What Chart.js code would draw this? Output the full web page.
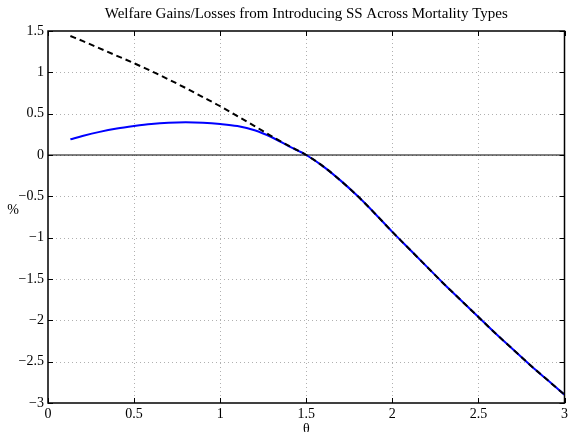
<!DOCTYPE html>
<html>
<head>
<meta charset="utf-8">
<script src="https://cdn.jsdelivr.net/npm/chart.js@4.4.0/dist/chart.umd.min.js"></script>
<style>
  html, body { margin: 0; padding: 0; background: #fff; }
  canvas { display: block; }
</style>
</head>
<body>
<canvas id="welfare" width="571" height="432"></canvas>
<script>
// mortality type theta and welfare change (%) for the two cases
const theta = [0.13, 0.2, 0.3, 0.4, 0.5, 0.6, 0.7, 0.8, 0.9, 1.0,
               1.1, 1.2, 1.3, 1.4, 1.5, 1.6, 1.7, 1.8, 1.9, 2.0,
               2.1, 2.2, 2.3, 2.4, 2.5, 2.6, 2.7, 2.8, 2.9, 3.0];
const gainSolid = [0.19, 0.23, 0.28, 0.32, 0.35, 0.375, 0.39, 0.395, 0.39, 0.375,
                   0.35, 0.30, 0.215, 0.105, 0.0, -0.14, -0.31, -0.50, -0.71, -0.93,
                   -1.14, -1.35, -1.56, -1.76, -1.96, -2.16, -2.35, -2.54, -2.72, -2.90];
const gainDashed = [1.44, 1.38, 1.29, 1.20, 1.11, 1.015, 0.915, 0.81, 0.70, 0.59,
                    0.47, 0.35, 0.225, 0.11, 0.0, -0.14, -0.31, -0.50, -0.71, -0.93,
                    -1.14, -1.35, -1.56, -1.76, -1.96, -2.16, -2.35, -2.54, -2.72, -2.90];
const zeroLine = [[0, 0], [3, 0]];

const xTicks = [0, 0.5, 1, 1.5, 2, 2.5, 3];
const yTicks = [-3, -2.5, -2, -1.5, -1, -0.5, 0, 0.5, 1, 1.5];

const TITLE = 'Welfare Gains/Losses from Introducing SS Across Mortality Types';
const FONT = 'Liberation Serif';

const pts = (xs, ys) => xs.map((x, i) => ({ x: x, y: ys[i] }));

// matlab-style frame: dotted grid, box, inward ticks, title and axis labels
const frame = {
  id: 'frame',
  beforeDatasetsDraw(chart) {
    const { ctx, chartArea: a, scales: { x, y } } = chart;
    ctx.save();
    ctx.strokeStyle = '#b0b0b0';
    ctx.lineWidth = 1;
    ctx.setLineDash([1, 3]);
    xTicks.slice(1, -1).forEach(v => {
      const px = Math.round(x.getPixelForValue(v)) + 0.5;
      ctx.beginPath(); ctx.moveTo(px, a.top); ctx.lineTo(px, a.bottom); ctx.stroke();
    });
    yTicks.slice(1, -1).forEach(v => {
      const py = Math.round(y.getPixelForValue(v)) + 0.5;
      ctx.beginPath(); ctx.moveTo(a.left, py); ctx.lineTo(a.right, py); ctx.stroke();
    });
    ctx.restore();
  },
  afterDatasetsDraw(chart) {
    const { ctx, chartArea: a, scales: { x, y } } = chart;
    const len = 5;
    ctx.save();
    ctx.strokeStyle = '#000';
    ctx.lineWidth = 1;
    ctx.setLineDash([]);
    xTicks.forEach(v => {
      const px = Math.round(x.getPixelForValue(v)) + 0.5;
      ctx.beginPath();
      ctx.moveTo(px, a.bottom); ctx.lineTo(px, a.bottom - len);
      ctx.moveTo(px, a.top); ctx.lineTo(px, a.top + len);
      ctx.stroke();
    });
    yTicks.forEach(v => {
      const py = Math.round(y.getPixelForValue(v)) + 0.5;
      ctx.beginPath();
      ctx.moveTo(a.left, py); ctx.lineTo(a.left + len, py);
      ctx.moveTo(a.right, py); ctx.lineTo(a.right - len, py);
      ctx.stroke();
    });
    ctx.lineWidth = 1.5;
    ctx.strokeRect(a.left, a.top, a.right - a.left, a.bottom - a.top);

    const cx = (a.left + a.right) / 2;
    ctx.fillStyle = '#000';
    ctx.textAlign = 'center';
    ctx.textBaseline = 'alphabetic';
    ctx.font = '15px "' + FONT + '"';
    ctx.fillText(TITLE, cx, 18);
    ctx.textBaseline = 'middle';
    ctx.font = '14px "' + FONT + '"';
    ctx.fillText('%', 13, 210);
    ctx.fillText('θ', cx, a.bottom + 26);
    ctx.restore();
  }
};

new Chart(document.getElementById('welfare').getContext('2d'), {
  type: 'scatter',
  data: {
    datasets: [
      {
        label: 'dashed',
        data: pts(theta, gainDashed),
        showLine: true,
        borderColor: '#000',
        borderWidth: 2,
        borderDash: [6, 4],
        pointRadius: 0,
        cubicInterpolationMode: 'monotone'
      },
      {
        label: 'solid',
        data: pts(theta, gainSolid),
        showLine: true,
        borderColor: '#0000ff',
        borderWidth: 2,
        pointRadius: 0,
        cubicInterpolationMode: 'monotone'
      },
      {
        label: 'zero',
        data: zeroLine.map(p => ({ x: p[0], y: p[1] })),
        showLine: true,
        borderColor: '#000',
        borderWidth: 1,
        pointRadius: 0
      }
    ]
  },
  options: {
    responsive: false,
    animation: false,
    layout: { padding: { left: 0, right: 4, top: 31, bottom: 0 } },
    plugins: {
      legend: { display: false },
      tooltip: { enabled: false },
      title: { display: false }
    },
    scales: {
      x: {
        type: 'linear',
        min: 0,
        max: 3,
        afterFit(s) { s.height = 29; },
        afterBuildTicks(s) { s.ticks = xTicks.map(v => ({ value: v })); },
        grid: { display: false, drawTicks: false },
        border: { display: false },
        ticks: {
          color: '#000',
          padding: 3,
          font: { family: FONT, size: 14 },
          callback: v => String(v)
        }
      },
      y: {
        type: 'linear',
        min: -3,
        max: 1.5,
        afterFit(s) { s.width = 48; },
        afterBuildTicks(s) { s.ticks = yTicks.map(v => ({ value: v })); },
        grid: { display: false, drawTicks: false },
        border: { display: false },
        ticks: {
          color: '#000',
          padding: 4,
          font: { family: FONT, size: 14 },
          callback: v => String(v).replace('-', '\u2212')
        }
      }
    }
  },
  plugins: [frame]
});
</script>
</body>
</html>
